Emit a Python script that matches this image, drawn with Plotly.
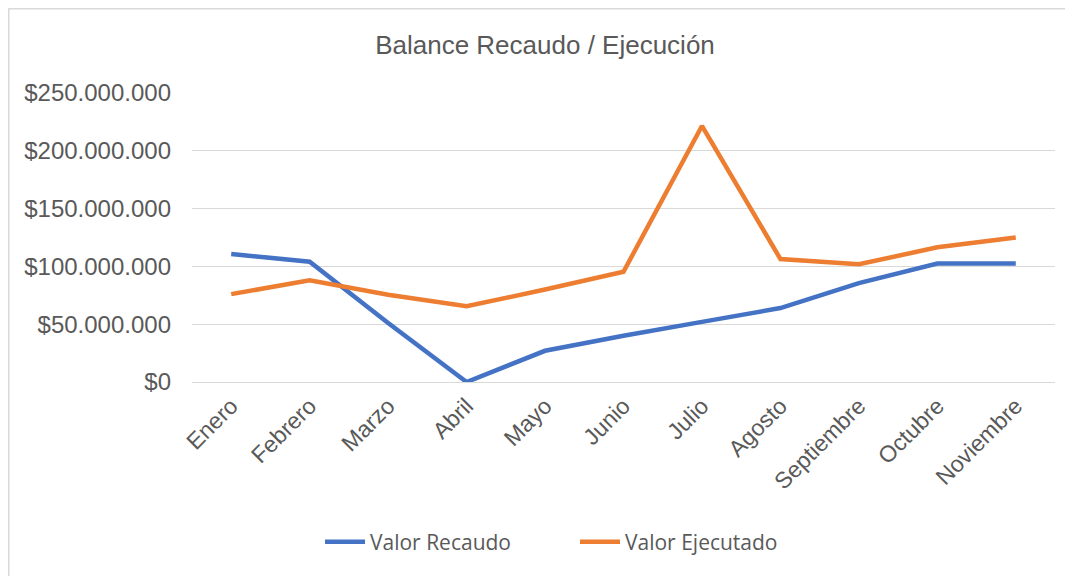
import plotly.graph_objects as go

meses = ["Enero", "Febrero", "Marzo", "Abril", "Mayo", "Junio", "Julio",
         "Agosto", "Septiembre", "Octubre", "Noviembre"]
valor_recaudo = [110800000, 104000000, 51000000, 0, 27000000, 40000000, 52000000,
                 64000000, 85500000, 102500000, 102500000]
valor_ejecutado = [76000000, 88000000, 75500000, 65500000, 80000000, 95400000, 221500000,
                   106400000, 101800000, 116500000, 125000000]
y_ticks = [0, 50000000, 100000000, 150000000, 200000000, 250000000]
y_tick_labels = ["$0", "$50.000.000", "$100.000.000", "$150.000.000", "$200.000.000", "$250.000.000"]

# page body adds an 8px offset, so the figure is 8px smaller than the window
W, H = 1065, 568
ml, mr, mt, mb = 184, 18, 85, 194
pw, ph = W - ml - mr, H - mt - mb

fig = go.Figure()
fig.add_trace(go.Scatter(x=meses, y=valor_recaudo, mode="lines", name="Valor Recaudo",
                         line=dict(color="#4472C4", width=4.5, shape="linear")))
fig.add_trace(go.Scatter(x=meses, y=valor_ejecutado, mode="lines", name="Valor Ejecutado",
                         line=dict(color="#ED7D31", width=4.5, shape="linear")))

grey = "#595959"
fig.update_layout(
    width=W, height=H,
    margin=dict(l=ml, r=mr, t=mt, b=mb),
    paper_bgcolor="white", plot_bgcolor="white",
    title=dict(text="Balance Recaudo / Ejecución", x=537 / W, xanchor="center",
               y=1 - 37 / H, yanchor="middle",
               font=dict(family="Liberation Sans, Arial", size=26, color=grey)),
    font=dict(family="Liberation Sans, Arial", color=grey),
    showlegend=True,
    legend=dict(orientation="h", x=(312 - ml) / pw, xanchor="left",
                y=(mt + ph - 534) / ph, yanchor="middle",
                font=dict(family="Open Sans, Liberation Sans", size=21, color=grey),
                itemwidth=40, entrywidth=200, bgcolor="rgba(0,0,0,0)"),
    xaxis=dict(showgrid=False, showline=False, zeroline=False, tickangle=-45,
               tickfont=dict(size=23, color=grey), ticks="", ticklabelstandoff=5,
               range=[-0.5, len(meses) - 0.5]),
    yaxis=dict(range=[0, 250000000], tickvals=y_ticks, ticktext=y_tick_labels,
               showgrid=True, gridcolor="#D9D9D9", gridwidth=1.3,
               zeroline=True, zerolinecolor="#D9D9D9", zerolinewidth=1.3,
               showline=False, ticks="", ticklabelstandoff=20,
               tickfont=dict(size=24, color=grey)),
)

# Chart outer border (left and top visible)
x_left = (0.5 - ml) / pw
y_top = (mt + ph - 0.5) / ph
fig.add_shape(type="line", xref="paper", yref="paper",
              x0=x_left, x1=x_left, y0=y_top, y1=-mb / ph - 0.01,
              line=dict(color="#D9D9D9", width=2))
fig.add_shape(type="line", xref="paper", yref="paper",
              x0=x_left, x1=(W - ml) / pw + 0.01, y0=y_top, y1=y_top,
              line=dict(color="#D9D9D9", width=2))

fig.write_html("out.html")
